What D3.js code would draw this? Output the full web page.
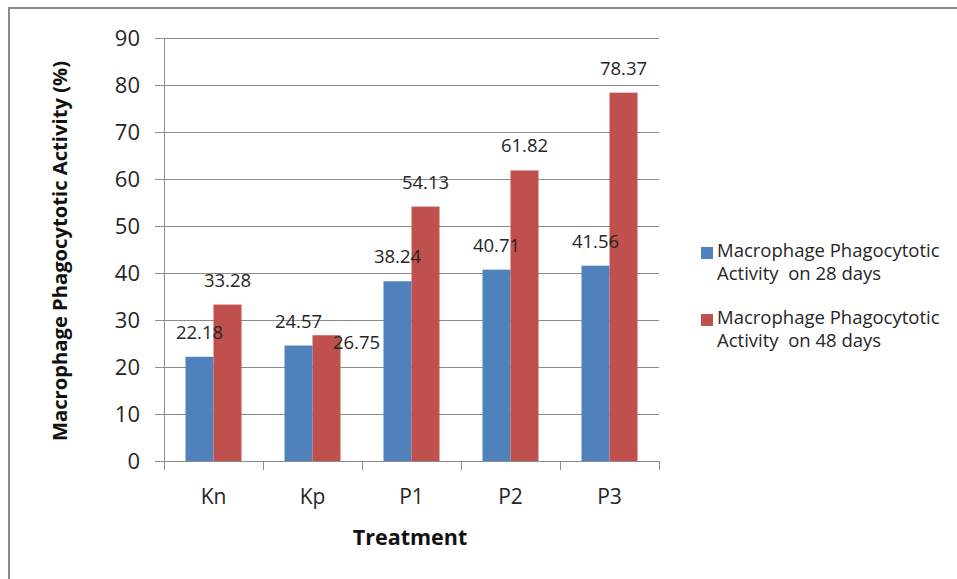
<!DOCTYPE html>
<html>
<head>
<meta charset="utf-8">
<script src="https://cdn.jsdelivr.net/npm/d3@7"></script>
<style>
  html, body { margin: 0; padding: 0; background: #fff; }
  svg { display: block; }
  text { font-family: "Open Sans", "Noto Sans", sans-serif; fill: #262626; }
</style>
</head>
<body>
<svg id="chart" width="957" height="579"></svg>
<script>
// Treatment groups and phagocytic activity (%) at two time points
const categories = ["Kn", "Kp", "P1", "P2", "P3"];
const day28 = [22.18, 24.57, 38.24, 40.71, 41.56];
const day48 = [33.28, 26.75, 54.13, 61.82, 78.37];
const seriesNames = [
  ["Macrophage Phagocytotic", "Activity  on 28 days"],
  ["Macrophage Phagocytotic", "Activity  on 48 days"]
];
const yTicks = [0, 10, 20, 30, 40, 50, 60, 70, 80, 90];

const colors = ["#4F81BD", "#C0504D"];
const gridColor = "#8c8c8c";

const svg = d3.select("#chart");

// outer chart frame (top and left edges visible)
svg.append("rect")
  .attr("x", 9).attr("y", 8)
  .attr("width", 1000).attr("height", 1000)
  .attr("fill", "none").attr("stroke", "#8a8a8a").attr("stroke-width", 2);

const plot = { left: 164, right: 659, top: 38, bottom: 461 };

const y = d3.scaleLinear().domain([0, 90]).range([plot.bottom, plot.top]);
const x0 = d3.scaleBand().domain(categories).range([plot.left, plot.right]);
const x1 = d3.scaleBand().domain([0, 1]).range([21.5, x0.bandwidth() - 21.5]);

// horizontal gridlines + y tick marks
svg.append("g").selectAll("line").data(yTicks).join("line")
  .attr("x1", plot.left - 9).attr("x2", plot.right)
  .attr("y1", d => Math.round(y(d)) + 0.5).attr("y2", d => Math.round(y(d)) + 0.5)
  .attr("stroke", gridColor).attr("stroke-width", 1);

// y axis tick labels
svg.append("g").selectAll("text").data(yTicks).join("text")
  .attr("x", 140).attr("y", d => y(d))
  .attr("dy", "0.36em")
  .attr("text-anchor", "end")
  .style("font-size", "22px")
  .text(d => d);

// bars
const series = [day28, day48];
series.forEach((vals, si) => {
  svg.append("g").selectAll("rect").data(categories).join("rect")
    .attr("x", (c) => x0(c) + x1(si))
    .attr("width", x1.bandwidth())
    .attr("y", (c, i) => y(vals[i]))
    .attr("height", (c, i) => y(0) - y(vals[i]))
    .attr("fill", colors[si]);
});

// axes lines
svg.append("line")
  .attr("x1", plot.left + 0.5).attr("x2", plot.left + 0.5)
  .attr("y1", plot.top).attr("y2", plot.bottom + 9)
  .attr("stroke", gridColor);
svg.append("line")
  .attr("x1", plot.left - 9).attr("x2", plot.right)
  .attr("y1", plot.bottom + 0.5).attr("y2", plot.bottom + 0.5)
  .attr("stroke", gridColor);

// category boundary ticks
const bounds = categories.map(c => x0(c)).concat([plot.right]);
svg.append("g").selectAll("line").data(bounds).join("line")
  .attr("x1", d => Math.round(d) + 0.5).attr("x2", d => Math.round(d) + 0.5)
  .attr("y1", plot.bottom).attr("y2", plot.bottom + 9)
  .attr("stroke", gridColor);

// category labels
svg.append("g").selectAll("text").data(categories).join("text")
  .attr("x", c => x0(c) + x0.bandwidth() / 2)
  .attr("y", 504)
  .attr("text-anchor", "middle")
  .style("font-size", "21px")
  .text(c => c);

// value labels above bars (one label nudged aside to clear its neighbour)
const nudges = { "1-1": [30, 32] };
series.forEach((vals, si) => {
  svg.append("g").selectAll("text").data(categories).join("text")
    .attr("x", (c, i) => x0(c) + x1(si) + x1.bandwidth() / 2 + (nudges[i + "-" + si] || [0, 0])[0])
    .attr("y", (c, i) => y(vals[i]) - 18 + (nudges[i + "-" + si] || [0, 0])[1])
    .attr("text-anchor", "middle")
    .style("font-size", "18.5px")
    .text((c, i) => vals[i].toFixed(2));
});

// axis titles
svg.append("text")
  .attr("x", 410).attr("y", 545)
  .attr("text-anchor", "middle")
  .style("font-size", "21.5px").style("font-weight", "bold")
  .style("fill", "#111")
  .text("Treatment");

svg.append("text")
  .attr("transform", "translate(67,251) rotate(-90)")
  .attr("text-anchor", "middle")
  .style("font-size", "20.2px").style("font-weight", "bold")
  .style("fill", "#111")
  .text("Macrophage Phagocytotic Activity (%)");

// legend
const legend = svg.append("g");
const legendRows = [257, 324];
seriesNames.forEach((lines, si) => {
  legend.append("rect")
    .attr("x", 701).attr("y", legendRows[si] - 10)
    .attr("width", 12).attr("height", 12)
    .attr("fill", colors[si]);
  lines.forEach((t, li) => {
    legend.append("text")
      .attr("x", 717).attr("y", legendRows[si] + li * 23)
      .style("font-size", "18.5px")
      .style("white-space", "pre")
      .attr("xml:space", "preserve")
      .text(t);
  });
});
</script>
</body>
</html>
